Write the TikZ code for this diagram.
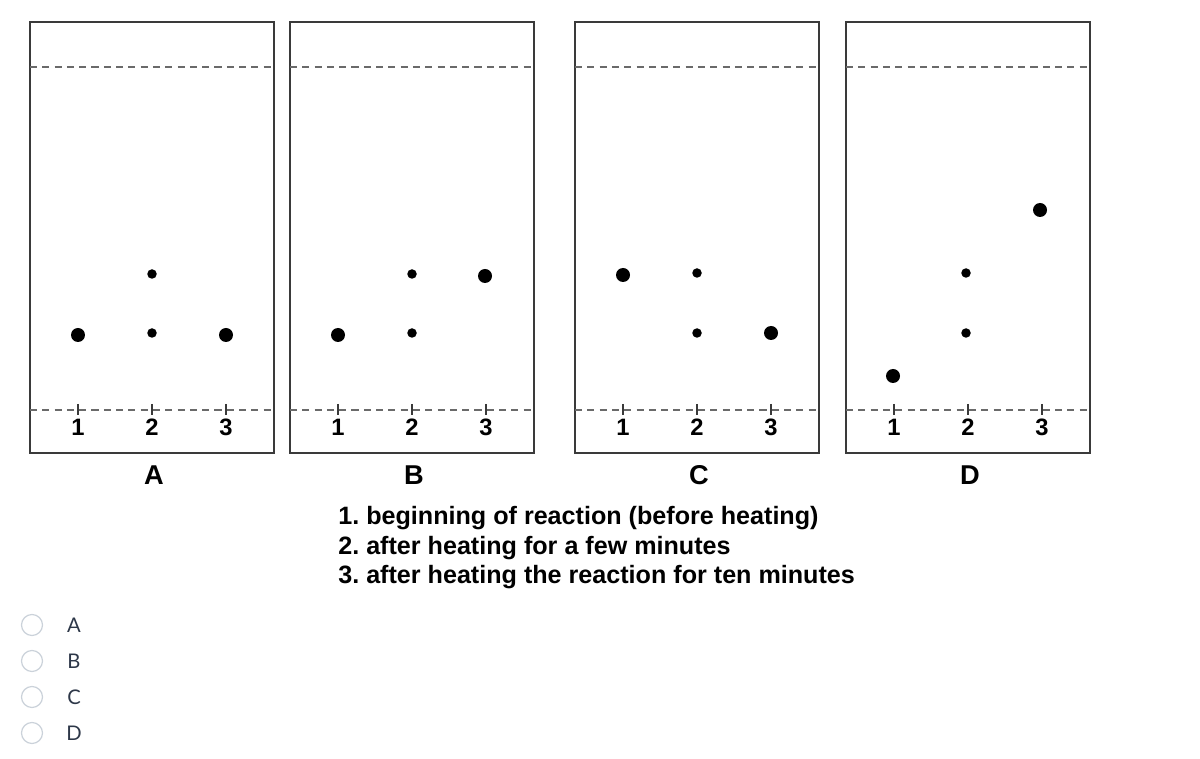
\documentclass[tikz,border=0pt]{standalone}
\usepackage{fontspec}
\setmainfont{Liberation Sans}
\newfontfamily\optfont{Lato}
\usetikzlibrary{positioning}
\definecolor{frame}{HTML}{3A3A3A}
\definecolor{front}{HTML}{6A6A6A}
\definecolor{optring}{HTML}{CBD2DA}
\definecolor{opttext}{HTML}{2D3748}
\frenchspacing

\begin{document}
\begin{tikzpicture}[x=0.02cm,y=-0.02cm,
  plate/.style={draw=frame,line width=0.8pt},
  solvent/.style={draw=front,dashed,dash pattern=on 4pt off 3pt,line width=0.6pt},
  lanetick/.style={draw=frame,line width=0.6pt},
  big/.style={circle,fill=black,inner sep=0pt,minimum size=0.28cm},
  small/.style={circle,fill=black,inner sep=0pt,minimum size=0.19cm},
  lanenum/.style={font=\fontsize{13.5}{16}\selectfont\bfseries,inner sep=0pt},
  platename/.style={font=\fontsize{15.5}{18}\selectfont\bfseries,inner sep=0pt},
  legend/.style={font=\fontsize{14.3}{16.7}\selectfont\bfseries,anchor=base west,inner sep=0pt},
  ring/.style={circle,draw=optring,line width=0.7pt,minimum size=0.42cm,inner sep=0pt},
  opt/.style={font=\optfont\fontsize{11.5}{13}\selectfont,text=opttext,inner sep=0pt}]
  \useasboundingbox (0,0) rectangle (1200,759);
  % plates
  \foreach \p/\x in {A/30,B/290,C/575,D/846}{
    \draw[plate] (\x,22) rectangle ++(244,431);
    \draw[solvent] (\x,67) -- ++(244,0);
    \draw[solvent] (\x,410) -- ++(244,0);
    \foreach \k/\dx in {1/48,2/122,3/196}{
      \draw[lanetick] (\x+\dx,404) -- (\x+\dx,415);
      \node[lanenum] (n\p\k) at (\x+\dx,427) {\k};
    }
    \node[platename] (name\p) at (\x+124,475) {\p};
  }
  % spots
  \foreach \s/\x/\y/\n in {
    big/78/335/a1, small/152/274/a2, small/152/333/a3, big/226/335/a4,
    big/338/335/b1, small/412/274/b2, small/412/333/b3, big/485/276/b4,
    big/623/275/c1, small/697/273/c2, small/697/333/c3, big/771/333/c4,
    big/893/376/d1, small/966/273/d2, small/966/333/d3, big/1040/210/d4}
    {\node[\s] (\n) at (\x,\y) {};}
  % key
  \node[legend] (k1) at (338,525) {1. beginning of reaction (before heating)};
  \node[legend] (k2) at (338,554.5) {2. after heating for a few minutes};
  \node[legend] (k3) at (338,584) {3. after heating the reaction for ten minutes};
  % answer options
  \foreach \o/\y in {A/625,B/661,C/697,D/733}{
    \node[ring] (r\o) at (32,\y) {};
    \node[opt] (o\o) at (74,\y) {\o};
  }
\end{tikzpicture}
\end{document}
